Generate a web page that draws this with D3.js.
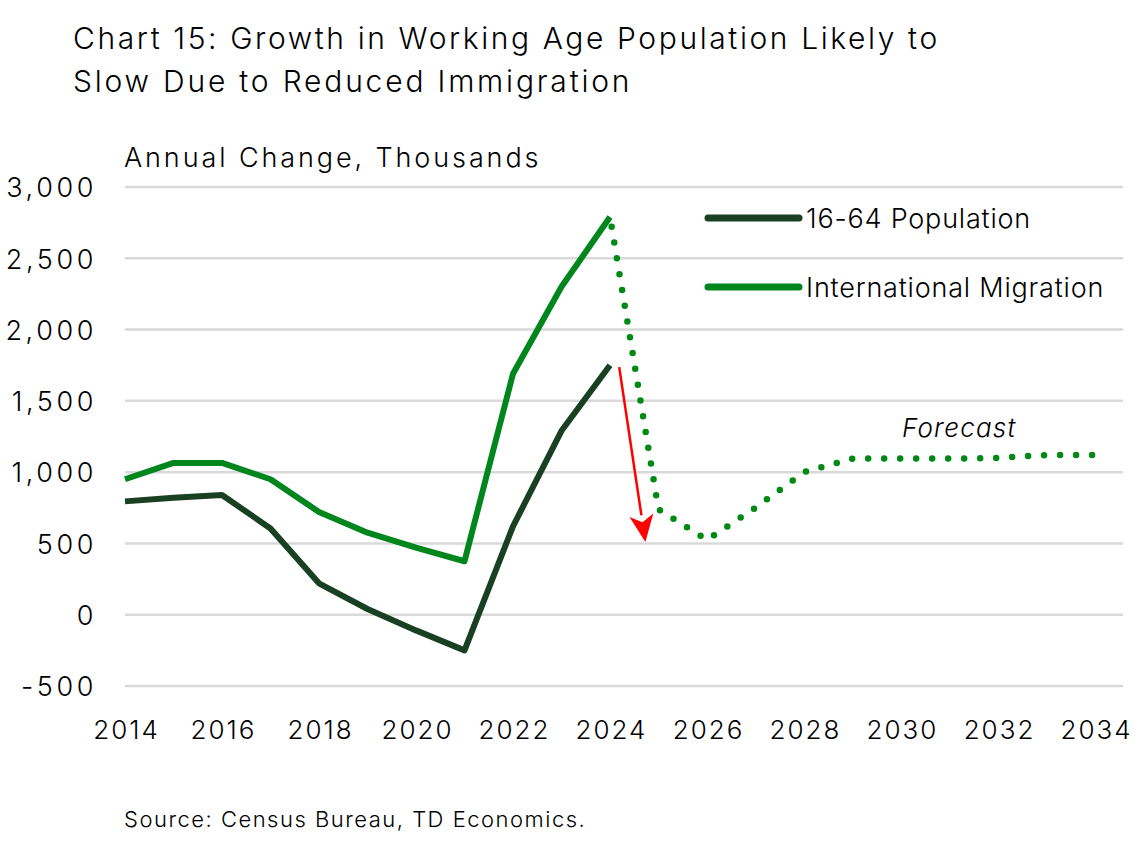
<!DOCTYPE html>
<html>
<head>
<meta charset="utf-8">
<script src="https://cdn.jsdelivr.net/npm/d3@7"></script>
<style>
  body { margin: 0; background: #fff; }
  svg text { font-family: Inter, "Noto Sans", sans-serif; fill: #000; font-weight: 300; }
</style>
</head>
<body>
<svg id="chart" width="1145" height="850"></svg>
<script>
// data (thousands)
const years = [2014, 2015, 2016, 2017, 2018, 2019, 2020, 2021, 2022, 2023, 2024]
const workingAge = [795, 820, 840, 605, 220, 40, -110, -250, 620, 1290, 1750]
const migration = [950, 1065, 1065, 950, 720, 575, 470, 375, 1690, 2300, 2790]

const forecastYears = [2024, 2025, 2026, 2027, 2028, 2029, 2030, 2031, 2032, 2033, 2034]
const forecastMigration = [2790, 740, 525, 750, 1000, 1095, 1095, 1095, 1100, 1120, 1120]

const yTicks = [-500, 0, 500, 1000, 1500, 2000, 2500, 3000]
const xTicks = [2014, 2016, 2018, 2020, 2022, 2024, 2026, 2028, 2030, 2032, 2034]

// red arrow annotation: [year, value] start and tip
const arrowFrom = [2024.19, 1737]
const arrowTo = [2024.73, 510]

const darkGreen = '#1a4023'
const green = '#00861c'

const svg = d3.select('#chart')

const x = d3.scaleLinear().domain([2014, 2034]).range([125, 1095])
const y = d3.scaleLinear().domain([-500, 3000]).range([686, 187])
const gridRight = 1123

// title
svg.append('text').attr('x', 73).attr('y', 49)
  .style('font-size', '30px').style('letter-spacing', '2.6px')
  .text('Chart 15: Growth in Working Age Population Likely to')
svg.append('text').attr('x', 73).attr('y', 92)
  .style('font-size', '30px').style('letter-spacing', '2.8px')
  .text('Slow Due to Reduced Immigration')

svg.append('text').attr('x', 124).attr('y', 167)
  .style('font-size', '27px').style('letter-spacing', '2.9px')
  .text('Annual Change, Thousands')

// gridlines
svg.append('g').selectAll('line')
  .data(yTicks)
  .enter()
  .append('line')
  .attr('x1', x(2014))
  .attr('x2', gridRight)
  .attr('y1', (d) => y(d))
  .attr('y2', (d) => y(d))
  .attr('stroke', '#d9d9d9')
  .attr('stroke-width', 2.5)

// y axis labels
const fmt = d3.format(',')
const yAxis = d3.axisLeft(y).tickValues(yTicks).tickSize(0).tickPadding(0)
  .tickFormat((d) => fmt(d).replace('\u2212', '-'))
const yg = svg.append('g').attr('transform', 'translate(97,0)').call(yAxis)
yg.select('.domain').remove()
yg.selectAll('text').style('font-size', '27px').style('letter-spacing', '3.6px')
  .attr('dy', '0.36em')

// x axis labels
const xAxis = d3.axisBottom(x).tickValues(xTicks).tickSize(0).tickPadding(0)
  .tickFormat(d3.format('d'))
const xg = svg.append('g').attr('transform', 'translate(1,721)').call(xAxis)
xg.select('.domain').remove()
xg.selectAll('text').style('font-size', '26px').style('letter-spacing', '2px')
  .attr('dy', '0.71em')

const line = d3.line().x((d) => x(d[0])).y((d) => y(d[1]))

svg.append('path')
  .attr('d', line(d3.zip(years, workingAge)))
  .attr('fill', 'none')
  .attr('stroke', darkGreen)
  .attr('stroke-width', 6)
  .attr('stroke-linejoin', 'round')

svg.append('path')
  .attr('d', line(d3.zip(years, migration)))
  .attr('fill', 'none')
  .attr('stroke', green)
  .attr('stroke-width', 6)
  .attr('stroke-linejoin', 'round')

// forecast, dotted
svg.append('path')
  .attr('d', line(d3.zip(forecastYears, forecastMigration)))
  .attr('fill', 'none')
  .attr('stroke', '#008a14')
  .attr('stroke-width', 6.5)
  .attr('stroke-linecap', 'round')
  .attr('stroke-dasharray', '0 16')
  .attr('stroke-dashoffset', -10)

svg.append('text')
  .attr('x', x(2031.2))
  .attr('y', 437)
  .attr('text-anchor', 'middle')
  .style('font-size', '26px')
  .style('letter-spacing', '1.2px')
  .style('font-style', 'italic')
  .text('Forecast')

// red arrow
const ax1 = x(arrowFrom[0]), ay1 = y(arrowFrom[1])
const ax2 = x(arrowTo[0]), ay2 = y(arrowTo[1])
const ang = Math.atan2(ay2 - ay1, ax2 - ax1)
const headLen = 27, headHalf = 12
const bx = ax2 - headLen * Math.cos(ang), by = ay2 - headLen * Math.sin(ang)
svg.append('line')
  .attr('x1', ax1).attr('y1', ay1)
  .attr('x2', bx).attr('y2', by)
  .attr('stroke', '#ff0000')
  .attr('stroke-width', 2.5)
svg.append('path')
  .attr('d', `M${ax2},${ay2}L${bx - headHalf * Math.sin(ang)},${by + headHalf * Math.cos(ang)}L${bx + 7 * Math.cos(ang)},${by + 7 * Math.sin(ang)}L${bx + headHalf * Math.sin(ang)},${by - headHalf * Math.cos(ang)}Z`)
  .attr('fill', '#ff0000')

// legend
const legend = [
  { name: '16-64 Population', color: darkGreen },
  { name: 'International Migration', color: green },
]
const lg = svg.append('g').selectAll('g')
  .data(legend)
  .enter()
  .append('g')
  .attr('transform', (d, i) => `translate(0,${218 + i * 69})`)
lg.append('line')
  .attr('x1', 708).attr('x2', 799)
  .attr('stroke', (d) => d.color)
  .attr('stroke-width', 7)
  .attr('stroke-linecap', 'round')
lg.append('text')
  .attr('x', 806)
  .attr('dy', '0.36em')
  .style('font-size', '27px')
  .style('letter-spacing', '0.8px')
  .text((d) => d.name)

svg.append('text').attr('x', 124).attr('y', 827)
  .style('font-size', '22px').style('letter-spacing', '1.5px')
  .text('Source: Census Bureau, TD Economics.')
</script>
</body>
</html>
